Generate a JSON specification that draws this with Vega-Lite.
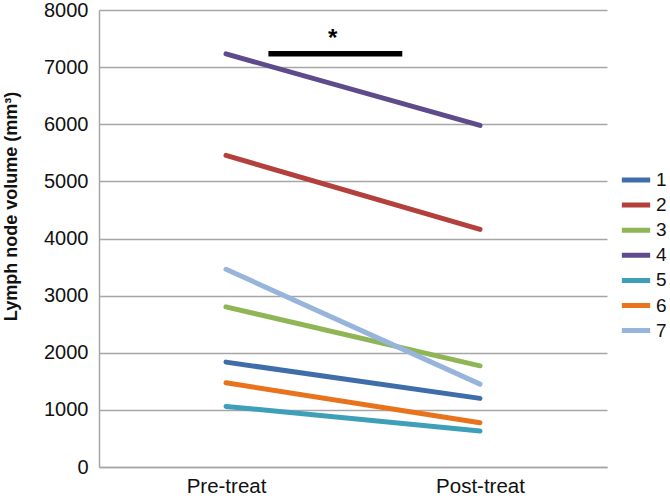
{
  "$schema": "https://vega.github.io/schema/vega-lite/v6.json",
  "width": 508,
  "height": 457,
  "autosize": "none",
  "padding": {"left": 99, "top": 10, "right": 63, "bottom": 29},
  "background": "white",
  "config": {
    "view": {"stroke": null},
    "font": "Liberation Sans"
  },
  "datasets": {
    "lines": [
      {"id": "1", "t": 0, "v": 1836}, {"id": "1", "t": 1, "v": 1201},
      {"id": "2", "t": 0, "v": 5455}, {"id": "2", "t": 1, "v": 4160},
      {"id": "3", "t": 0, "v": 2803}, {"id": "3", "t": 1, "v": 1771},
      {"id": "4", "t": 0, "v": 7232}, {"id": "4", "t": 1, "v": 5979},
      {"id": "5", "t": 0, "v": 1061}, {"id": "5", "t": 1, "v": 629},
      {"id": "6", "t": 0, "v": 1474}, {"id": "6", "t": 1, "v": 775},
      {"id": "7", "t": 0, "v": 3462}, {"id": "7", "t": 1, "v": 1451}
    ],
    "sig": [{"x": 0.167, "x2": 0.694, "y": 7233, "label": "*", "ty": 7500, "tx": 0.42}]
  },
  "layer": [
    {
      "data": {"name": "lines"},
      "mark": {"type": "line", "strokeWidth": 5, "strokeCap": "round"},
      "encoding": {
        "x": {
          "field": "t", "type": "quantitative",
          "scale": {"domain": [-0.5, 1.5], "nice": false, "zero": false},
          "axis": {
            "values": [0, 1],
            "labelExpr": "datum.value == 0 ? 'Pre-treat' : 'Post-treat'",
            "title": null, "grid": false, "ticks": false,
            "labelFontSize": 20.5, "labelColor": "#111", "labelPadding": 9,
            "domainColor": "#a6a6a6", "domainWidth": 1.5
          }
        },
        "y": {
          "field": "v", "type": "quantitative",
          "scale": {"domain": [0, 8000], "nice": false},
          "axis": {
            "values": [0, 1000, 2000, 3000, 4000, 5000, 6000, 7000, 8000],
            "format": "d",
            "title": "Lymph node volume (mm³)",
            "titleFontSize": 18, "titleFontWeight": "bold", "titleColor": "#111",
            "titleX": -83, "titleY": 196, "titleAngle": -90,
            "titleBaseline": "alphabetic", "titleAlign": "center",
            "labelFontSize": 20, "labelColor": "#111", "labelPadding": 11,
            "ticks": false, "grid": true, "gridColor": "#a6a6a6", "gridWidth": 1.3,
            "domainColor": "#a6a6a6", "domainWidth": 1.5
          }
        },
        "detail": {"field": "id"},
        "color": {
          "field": "id", "type": "nominal",
          "scale": {
            "domain": ["1", "2", "3", "4", "5", "6", "7"],
            "range": ["#3f6daa", "#b3403c", "#8fb555", "#5f4a8b", "#3da0b8", "#e8731c", "#97b5db"]
          },
          "legend": {
            "title": null,
            "orient": "none",
            "legendX": 520,
            "legendY": 160,
            "symbolType": "stroke",
            "symbolSize": 800,
            "symbolStrokeWidth": 5,
            "clipHeight": 20,
            "rowPadding": 5.1,
            "labelFontSize": 19,
            "labelColor": "#111",
            "labelOffset": 3
          }
        }
      }
    },
    {
      "data": {"name": "sig"},
      "mark": {"type": "rule", "strokeWidth": 5.5, "color": "black"},
      "encoding": {
        "x": {"field": "x", "type": "quantitative"},
        "x2": {"field": "x2"},
        "y": {"field": "y", "type": "quantitative"}
      }
    },
    {
      "data": {"name": "sig"},
      "mark": {"type": "text", "fontSize": 24, "fontWeight": "bold", "baseline": "middle", "align": "center", "color": "black"},
      "encoding": {
        "x": {"field": "tx", "type": "quantitative"},
        "y": {"field": "ty", "type": "quantitative"},
        "text": {"field": "label"}
      }
    }
  ]
}
